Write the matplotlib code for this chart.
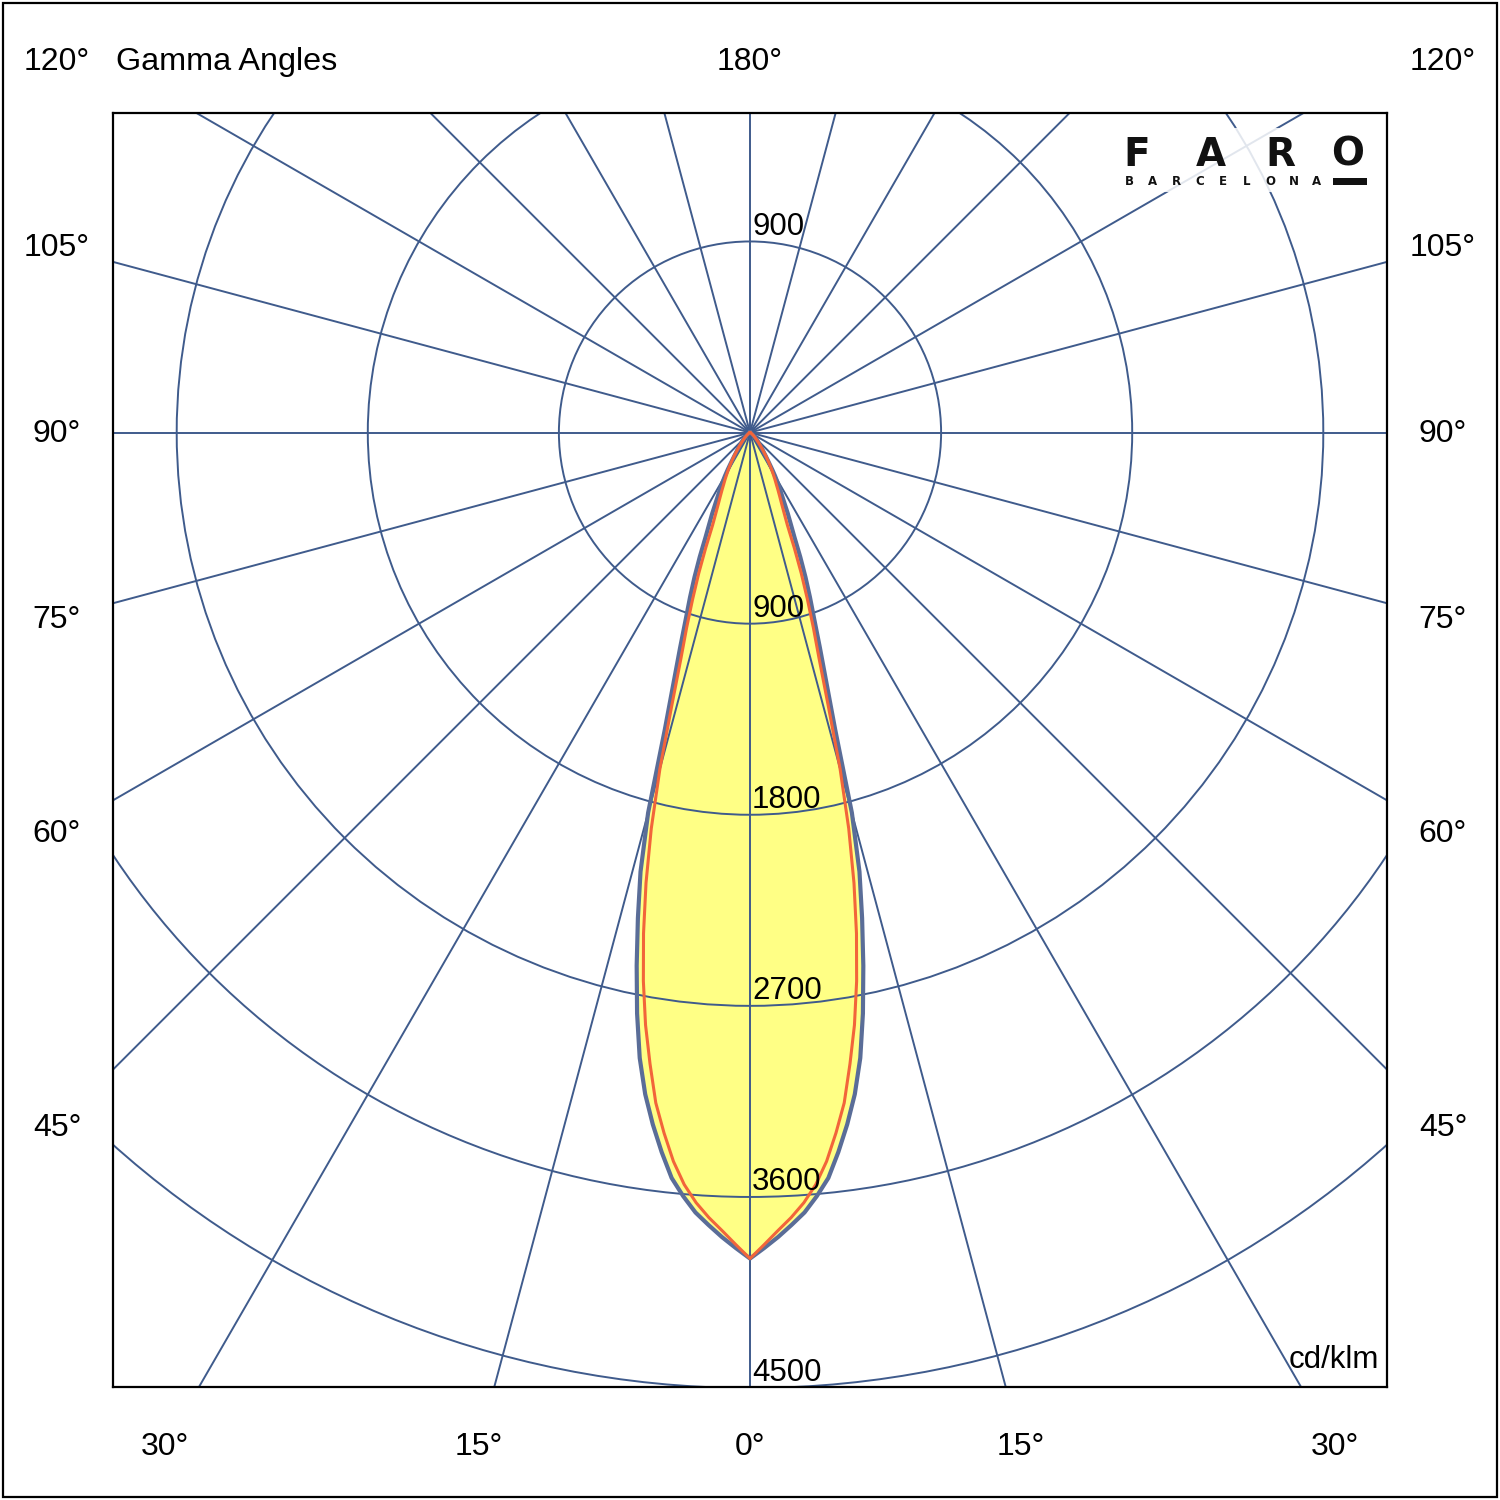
import numpy as np
import matplotlib
matplotlib.use('Agg')
import matplotlib.pyplot as plt
from matplotlib.patches import Circle, Rectangle

# photometric data (cd/klm)
gamma_deg = [0, 1, 2, 3, 4, 5, 6, 7, 8, 9, 10, 11, 12, 13, 14, 15, 16, 17, 18, 19, 20,
             21, 22, 23, 24, 25, 26, 27, 28, 29, 30, 31, 32, 34, 36, 38, 40, 45, 50, 60, 70, 80, 90]
c0_c180 = [3890, 3841, 3791, 3737, 3682, 3610, 3530, 3414, 3290, 3155, 2991, 2787, 2567, 2347,
           2131, 1854, 1456, 1230, 1065, 929, 826, 729, 632, 537, 473, 422, 371, 330, 299, 267,
           236, 204, 173, 130, 100, 80, 65, 40, 22, 8, 4, 2, 0]
c90_c270 = [3890, 3825, 3761, 3702, 3636, 3555, 3451, 3323, 3188, 3010, 2833, 2632, 2412, 2177,
            1922, 1639, 1334, 1113, 965, 830, 707, 583, 470, 410, 365, 330, 300, 272, 250, 228,
            208, 188, 170, 135, 105, 82, 65, 36, 20, 7, 3, 1, 0]

ring_values = [900, 1800, 2700, 3600, 4500]
spoke_angles = list(range(0, 360, 15))

left_labels = ['120°', '105°', '90°', '75°', '60°', '45°']
left_label_y = [70, 256, 442, 628, 842, 1136]   # baselines, px from top
bottom_labels = ['30°', '15°', '0°', '15°', '30°']
bottom_label_x = [165, 479, 750, 1021, 1335]

grid_col = '#3f5b8c'
curve_col = '#5a6d98'
red_col = '#f2653a'
fill_col = '#ffff85'
FONT = 'Liberation Sans'
W = 1500


def fpos(x, y):
    # pixel position (from top-left) -> figure fraction
    return x / W, 1 - y / W


def polar_curve(gam, vals):
    g = np.radians(np.array(gam, dtype=float))
    v = np.array(vals, dtype=float)
    th = np.concatenate([-g[::-1], g[1:]])
    rr = np.concatenate([v[::-1], v[1:]])
    return rr * np.sin(th), -rr * np.cos(th)


fig = plt.figure(figsize=(15, 15), dpi=100)
ax = fig.add_axes([113 / W, 113 / W, 1274 / W, 1274 / W])
ax.set_xlim(-3000, 3000)
ax.set_ylim(-4495, 1505)
ax.set_xticks([])
ax.set_yticks([])
for s in ax.spines.values():
    s.set_linewidth(1.6)
    s.set_color('black')
    s.set_zorder(10)

# yellow filled body
bx, by = polar_curve(gamma_deg, c0_c180)
ax.fill(bx, by, color=fill_col, lw=0, zorder=1)

# grid
for a in spoke_angles:
    t = np.radians(a)
    ax.plot([0, 9000 * np.sin(t)], [0, -9000 * np.cos(t)], color=grid_col, lw=1.4, zorder=2)
for r in ring_values:
    ax.add_patch(Circle((0, 0), r, fill=False, ec=grid_col, lw=1.4, zorder=2))

# curves
ax.plot(bx, by, color=curve_col, lw=3.0, zorder=4, solid_joinstyle='round')
rx, ry = polar_curve(gamma_deg, c90_c270)
ax.plot(rx, ry, color=red_col, lw=2.2, zorder=5, solid_joinstyle='round')

# ring labels
ax.text(10, ring_values[0] + 32, str(ring_values[0]), family=FONT, fontsize=22.5,
        ha='left', va='baseline', zorder=6)
for r in ring_values:
    ax.text(10, -r + 32, str(r), family=FONT, fontsize=22.5, ha='left', va='baseline', zorder=6)

ax.text(2960, -4495 + 90, 'cd/klm', family=FONT, fontsize=22.5, ha='right', va='baseline', zorder=6)

# outer angle labels
for lab, yy in zip(left_labels, left_label_y):
    fig.text(*fpos(57, yy), lab, family=FONT, fontsize=23, ha='center', va='baseline')
    fig.text(*fpos(1443, yy), lab, family=FONT, fontsize=23, ha='center', va='baseline')
for lab, xx in zip(bottom_labels, bottom_label_x):
    fig.text(*fpos(xx, 1455), lab, family=FONT, fontsize=23, ha='center', va='baseline')
fig.text(*fpos(750, 70), '180°', family=FONT, fontsize=23, ha='center', va='baseline')
fig.text(*fpos(116, 70), 'Gamma Angles', family=FONT, fontsize=23.3, ha='left', va='baseline')

# logo
fig.patches.append(Rectangle(fpos(1115, 192), 260 / W, 64 / W, transform=fig.transFigure,
                             fc='white', ec='none', alpha=0.85, zorder=20))
for ch, xx in zip('FARO', [1137, 1211, 1280, 1348]):
    fig.text(*fpos(xx, 166), ch, family='DejaVu Sans', fontweight='bold', fontsize=28,
             color='#111111', ha='center', va='baseline', zorder=21)
for i, ch in enumerate('BARCELONA'):
    fig.text(*fpos(1129 + i * 23.5, 185), ch, family='DejaVu Sans', fontweight='bold',
             fontsize=8.5, color='#111111', ha='center', va='baseline', zorder=21)
fig.patches.append(Rectangle(fpos(1333, 185), 34 / W, 7 / W, transform=fig.transFigure,
                             fc='#111111', ec='none', zorder=21))

# outer frame
fig.patches.append(Rectangle((3 / W, 3 / W), 1494 / W, 1494 / W, transform=fig.transFigure,
                             fill=False, ec='black', lw=1.6, zorder=30))

fig.savefig('out.png', dpi=100)
